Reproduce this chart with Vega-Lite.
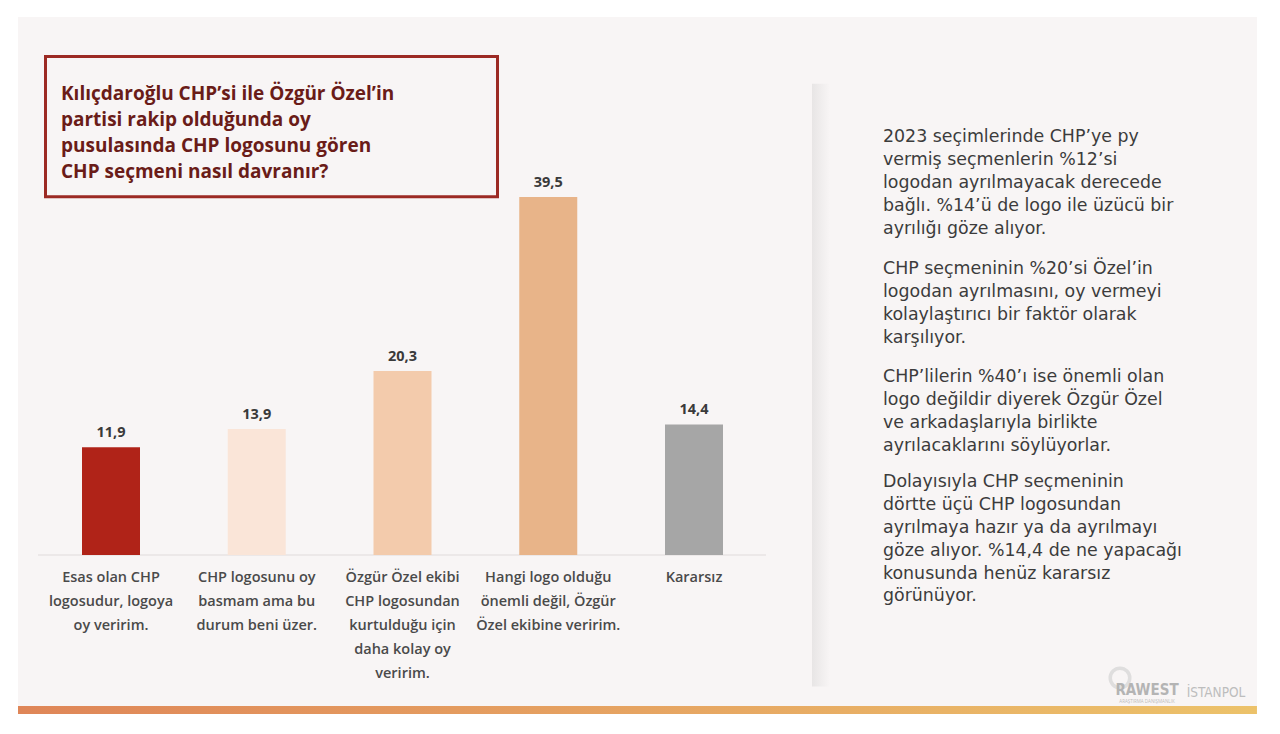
{
  "$schema": "https://vega.github.io/schema/vega-lite/v6.json",
  "width": 1280,
  "height": 734,
  "autosize": {"type": "none"},
  "padding": 0,
  "background": "#ffffff",
  "config": {
    "view": {"stroke": null},
    "axis": {"disable": true},
    "locale": {"number": {"decimal": ",", "thousands": ".", "grouping": [3], "currency": ["₺", ""]}},
    "text": {"font": "Open Sans"}
  },
  "layer": [
    {
      "data": {"values": [{"panel": "background"}]},
      "mark": {"type": "rect", "fill": "#f8f5f5"},
      "encoding": {
        "x": {"datum": 0.3619, "type": "quantitative", "scale": {"domain": [0.2384, 9.0206], "nice": false, "zero": false, "padding": 0}, "axis": null},
        "x2": {"datum": 8.8625},
        "y": {"datum": 59.363, "type": "quantitative", "scale": {"domain": [-19.751, 61.238], "nice": false, "zero": false, "padding": 0}, "axis": null},
        "y2": {"datum": -16.661}
      }
    },
    {
      "data": {"values": [{"panel": "shadow"}]},
      "mark": {"type": "rect", "opacity": 0.75, "fill": {"gradient": "linear", "x1": 0, "x2": 1, "y1": 0, "y2": 0, "stops": [{"offset": 0, "color": "#e2e0e0"}, {"offset": 1, "color": "#f8f5f5"}]}},
      "encoding": {
        "x": {"datum": 5.8096, "type": "quantitative"},
        "x2": {"datum": 5.9330},
        "y": {"datum": 52.0, "type": "quantitative"},
        "y2": {"datum": -14.5}
      }
    },
    {
      "data": {"values": [{"panel": "footer"}]},
      "mark": {"type": "rect", "fill": {"gradient": "linear", "x1": 0, "x2": 1, "y1": 0, "y2": 0, "stops": [{"offset": 0, "color": "#df8658"}, {"offset": 0.5, "color": "#e6a462"}, {"offset": 1, "color": "#ecc26a"}]}},
      "encoding": {
        "x": {"datum": 0.3619, "type": "quantitative"},
        "x2": {"datum": 8.8625},
        "y": {"datum": -16.661, "type": "quantitative"},
        "y2": {"datum": -17.544}
      }
    },
    {
      "data": {"values": [{"panel": "baseline"}]},
      "mark": {"type": "rule", "color": "#e8e3e3", "strokeWidth": 1.5},
      "encoding": {
        "x": {"datum": 0.4991, "type": "quantitative"},
        "x2": {"datum": 5.494},
        "y": {"datum": 0, "type": "quantitative"}
      }
    },
    {
      "data": {"name": "bars", "values": [
        {"pos": 1, "value": 11.9, "label": "Esas olan CHP\nlogosudur, logoya\noy veririm."},
        {"pos": 2, "value": 13.9, "label": "CHP logosunu oy\nbasmam ama bu\ndurum beni üzer."},
        {"pos": 3, "value": 20.3, "label": "Özgür Özel ekibi\nCHP logosundan\nkurtulduğu için\ndaha kolay oy\nveririm."},
        {"pos": 4, "value": 39.5, "label": "Hangi logo olduğu\nönemli değil, Özgür\nÖzel ekibine veririm."},
        {"pos": 5, "value": 14.4, "label": "Kararsız"}
      ]},
      "layer": [
        {
          "mark": {"type": "bar", "width": 58},
          "encoding": {
            "x": {"field": "pos", "type": "quantitative", "axis": null},
            "y": {"field": "value", "type": "quantitative", "axis": null},
            "y2": {"datum": 0},
            "color": {"field": "pos", "type": "nominal", "legend": null,
              "scale": {"domain": [1, 2, 3, 4, 5], "range": ["#b02318", "#fae5d8", "#f3cbac", "#e8b489", "#a6a6a6"]}}
          }
        },
        {
          "mark": {"type": "text", "fontSize": 14.5, "fontWeight": "bold", "color": "#3a3a3a", "baseline": "alphabetic", "dy": -10},
          "encoding": {
            "x": {"field": "pos", "type": "quantitative"},
            "y": {"field": "value", "type": "quantitative"},
            "text": {"field": "value", "type": "quantitative", "format": ".1f"}
          }
        },
        {
          "mark": {"type": "text", "fontSize": 14.5, "fontWeight": 600, "color": "#4a4a4a", "baseline": "alphabetic", "dy": 27.5, "lineBreak": "\n", "lineHeight": 24},
          "encoding": {
            "x": {"field": "pos", "type": "quantitative"},
            "y": {"datum": 0, "type": "quantitative"},
            "text": {"field": "label", "type": "nominal"}
          }
        }
      ]
    },
    {
      "data": {"values": [{"panel": "titlebox"}]},
      "mark": {"type": "rect", "fill": null, "stroke": "#9c2a24", "strokeWidth": 3},
      "encoding": {
        "x": {"datum": 0.5506, "type": "quantitative"},
        "x2": {"datum": 3.6518},
        "y": {"datum": 55.004, "type": "quantitative"},
        "y2": {"datum": 39.523}
      }
    },
    {
      "data": {"values": [{"text": "Kılıçdaroğlu CHP’si ile Özgür Özel’in\npartisi rakip olduğunda oy\npusulasında CHP logosunu gören\nCHP seçmeni nasıl davranır?"}]},
      "mark": {"type": "text", "align": "left", "baseline": "alphabetic", "fontSize": 19, "fontWeight": "bold", "color": "#6a1c18", "lineBreak": "\n", "lineHeight": 26},
      "encoding": {
        "x": {"datum": 0.6569, "type": "quantitative"},
        "y": {"datum": 50.15, "type": "quantitative"},
        "text": {"field": "text", "type": "nominal"}
      }
    },
    {
      "data": {"values": [{"text": "2023 seçimlerinde CHP’ye py\nvermiş seçmenlerin %12’si\nlogodan ayrılmayacak derecede\nbağlı. %14’ü de logo ile üzücü bir\nayrılığı göze alıyor."}]},
      "mark": {"type": "text", "font": "DejaVu Sans", "align": "left", "baseline": "alphabetic", "fontSize": 17.4, "color": "#3c3c3c", "lineBreak": "\n", "lineHeight": 22.8},
      "encoding": {
        "x": {"datum": 6.2967, "type": "quantitative"},
        "y": {"datum": 45.515, "type": "quantitative"},
        "text": {"field": "text", "type": "nominal"}
      }
    },
    {
      "data": {"values": [{"text": "CHP seçmeninin %20’si Özel’in\nlogodan ayrılmasını, oy vermeyi\nkolaylaştırıcı bir faktör olarak\nkarşılıyor."}]},
      "mark": {"type": "text", "font": "DejaVu Sans", "align": "left", "baseline": "alphabetic", "fontSize": 17.4, "color": "#3c3c3c", "lineBreak": "\n", "lineHeight": 22.8},
      "encoding": {
        "x": {"datum": 6.2967, "type": "quantitative"},
        "y": {"datum": 30.95, "type": "quantitative"},
        "text": {"field": "text", "type": "nominal"}
      }
    },
    {
      "data": {"values": [{"text": "CHP’lilerin %40’ı ise önemli olan\nlogo değildir diyerek Özgür Özel\nve arkadaşlarıyla birlikte\nayrılacaklarını söylüyorlar."}]},
      "mark": {"type": "text", "font": "DejaVu Sans", "align": "left", "baseline": "alphabetic", "fontSize": 17.4, "color": "#3c3c3c", "lineBreak": "\n", "lineHeight": 22.8},
      "encoding": {
        "x": {"datum": 6.2967, "type": "quantitative"},
        "y": {"datum": 19.034, "type": "quantitative"},
        "text": {"field": "text", "type": "nominal"}
      }
    },
    {
      "data": {"values": [{"text": "Dolayısıyla CHP seçmeninin\ndörtte üçü CHP logosundan\nayrılmaya hazır ya da ayrılmayı\ngöze alıyor.  %14,4 de ne yapacağı\nkonusunda henüz kararsız\ngörünüyor."}]},
      "mark": {"type": "text", "font": "DejaVu Sans", "align": "left", "baseline": "alphabetic", "fontSize": 17.4, "color": "#3c3c3c", "lineBreak": "\n", "lineHeight": 22.8},
      "encoding": {
        "x": {"datum": 6.2967, "type": "quantitative"},
        "y": {"datum": 7.448, "type": "quantitative"},
        "text": {"field": "text", "type": "nominal"}
      }
    },
    {
      "data": {"values": [{"logo": "ring"}]},
      "mark": {"type": "point", "shape": "circle", "filled": false, "size": 380, "stroke": "#cfcfcf", "strokeWidth": 3.5, "opacity": 0.6},
      "encoding": {
        "x": {"datum": 7.9228, "type": "quantitative"},
        "y": {"datum": -13.572, "type": "quantitative"}
      }
    },
    {
      "data": {"values": [{"text": "RAWEST"}]},
      "mark": {"type": "text", "font": "DejaVu Sans Condensed, Roboto, sans-serif", "fontSize": 15, "fontWeight": "bold", "color": "#b4b4b4", "baseline": "alphabetic", "align": "center"},
      "encoding": {
        "x": {"datum": 8.108, "type": "quantitative"},
        "y": {"datum": -15.447, "type": "quantitative"},
        "text": {"field": "text", "type": "nominal"}
      }
    },
    {
      "data": {"values": [{"text": "ARAŞTIRMA DANIŞMANLIK"}]},
      "mark": {"type": "text", "fontSize": 4.5, "color": "#bcbcbc", "baseline": "alphabetic", "align": "center"},
      "encoding": {
        "x": {"datum": 8.108, "type": "quantitative"},
        "y": {"datum": -16.33, "type": "quantitative"},
        "text": {"field": "text", "type": "nominal"}
      }
    },
    {
      "data": {"values": [{"text": "İSTANPOL"}]},
      "mark": {"type": "text", "font": "DejaVu Sans Condensed, Roboto, sans-serif", "fontSize": 13.5, "color": "#bdbdbd", "baseline": "alphabetic", "align": "center"},
      "encoding": {
        "x": {"datum": 8.5814, "type": "quantitative"},
        "y": {"datum": -15.668, "type": "quantitative"},
        "text": {"field": "text", "type": "nominal"}
      }
    }
  ]
}
